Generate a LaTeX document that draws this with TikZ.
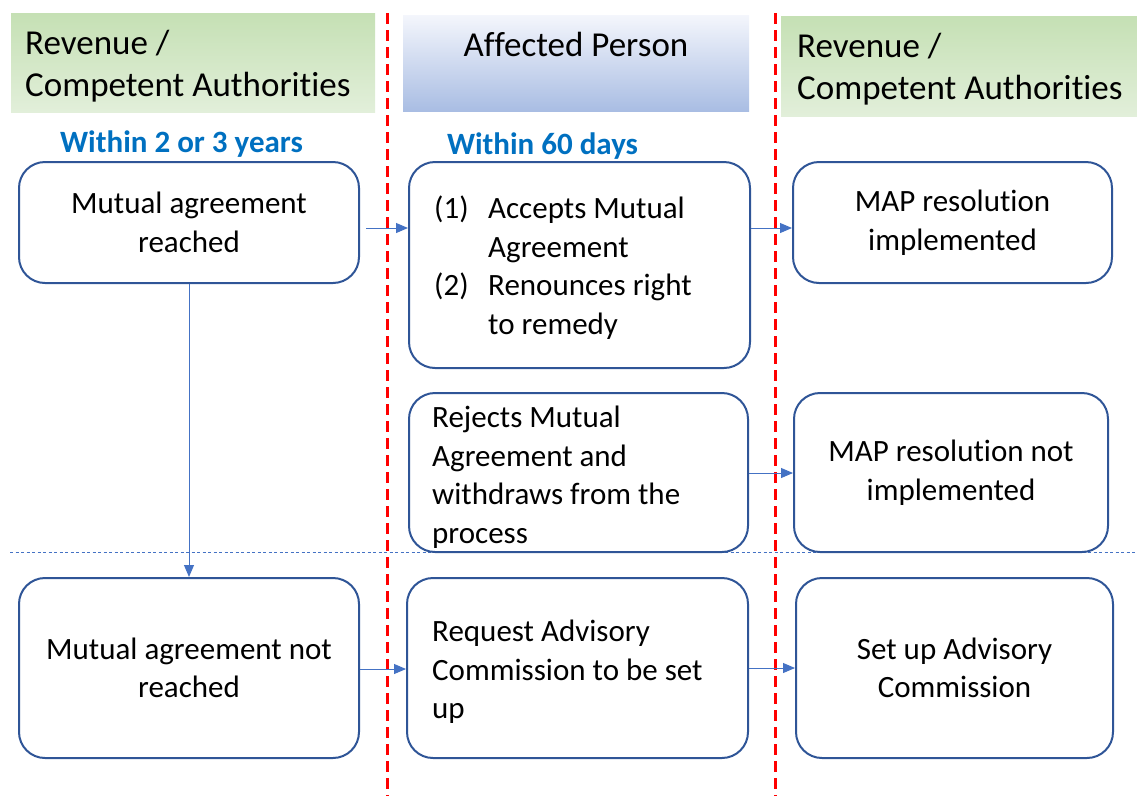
\documentclass[tikz,border=0pt]{standalone}
\usepackage{fontspec}
\setmainfont{Carlito}[RawFeature={-liga;-clig;-calt;-dlig}]
\usetikzlibrary{arrows.meta}
\definecolor{boxline}{HTML}{2F5597}
\definecolor{arrowblue}{HTML}{4472C4}
\definecolor{labelblue}{HTML}{0070C0}
\definecolor{greentop}{HTML}{C5E0B4}
\definecolor{greenbot}{HTML}{E2EFDA}
\definecolor{bluetop}{HTML}{F4F6FC}
\definecolor{bluebot}{HTML}{A9BDE3}
\definecolor{lanered}{HTML}{FF0000}
\begin{document}
\begin{tikzpicture}[x=1pt,y=-1pt,
  stepbox/.style={draw=boxline, line width=2pt, rounded corners=26pt, fill=white,
    inner sep=0pt, align=center, font=\fontsize{31}{38.5}\selectfont},
  bodytext/.style={inner sep=0pt, align=left, font=\fontsize{31}{38.5}\selectfont},
  headtext/.style={inner sep=0pt, align=left, font=\fontsize{35}{42}\selectfont},
  greenhead/.style={rectangle, inner sep=0pt, top color=greentop, bottom color=greenbot},
  bluehead/.style={rectangle, inner sep=0pt, top color=bluetop, bottom color=bluebot},
  when/.style={inner sep=0pt, text=labelblue, font=\fontsize{31}{36}\selectfont\bfseries},
  arr/.style={draw=arrowblue, line width=1pt, -{Triangle[length=12pt,width=10pt]}},
  lane/.style={draw=lanered, line width=3pt, dash pattern=on 11pt off 6pt},
  split/.style={draw=arrowblue, line width=1pt, dash pattern=on 3pt off 2.5pt},
]
\useasboundingbox (0,0) rectangle (1137,796);

% column headers
\node[greenhead, minimum width=364pt, minimum height=99pt] (hl) at (193,62.5) {};
\node[bluehead, minimum width=346pt, minimum height=96pt] (hm) at (576,63) {};
\node[greenhead, minimum width=356pt, minimum height=100pt] (hr) at (959,66) {};
\node[headtext, anchor=north west] (hltext) at (25,30) {Revenue /\\Competent Authorit\kern0pt ies};
\node[headtext] (hmtext) at (576,44) {Affected Person};
\node[headtext, anchor=north west] (hrtext) at (797,33) {Revenue /\\Competent Authorit\kern0pt ies};

% time limits
\node[when, anchor=base] (w1) at (181.5,152) {Within 2 or 3 years};
\node[when, anchor=base] (w2) at (542.5,154) {Within 60 days};

% boundary between agreement and no agreement
\coordinate (sl) at (10,552);
\coordinate (sr) at (1137,552);
\draw[split] (sl) -- (sr);

% process steps
\node[stepbox, minimum width=340pt, minimum height=121pt] (A) at (189,222.5) {Mutual agreement\\reached};
\node[stepbox, minimum width=341pt, minimum height=206pt] (B) at (579.5,265) {};
\node[stepbox, minimum width=319pt, minimum height=121pt] (C) at (952.5,222.5) {MAP resolution\\implemented};
\node[stepbox, minimum width=339pt, minimum height=159pt] (D) at (578.5,472.5) {};
\node[stepbox, minimum width=314pt, minimum height=159pt] (Mn) at (951,472.5) {MAP resolution not\\implemented};
\node[stepbox, minimum width=340pt, minimum height=180pt] (E) at (189,668) {Mutual agreement not\\reached};
\node[stepbox, minimum width=341pt, minimum height=180pt] (F) at (577.5,668) {};
\node[stepbox, minimum width=317pt, minimum height=180pt] (G) at (954.5,668) {Set up Advisory\\Commission};

\node[bodytext, anchor=north west] (Btext) at (434,196)
  {\makebox[54pt][l]{(1)}Accepts Mutual\\\hspace*{54pt}Agreement\\
   \makebox[54pt][l]{(2)}Renounces right\\\hspace*{54pt}to remedy};
\node[bodytext, anchor=north west] (Dtext) at (432,406)
  {Rejects Mutual\\Agreement and\\withdraws from the\\process};
\node[bodytext, anchor=north west] (Ftext) at (432,620)
  {Request Advisory\\Commission to be set\\up};

% swimlane separators
\coordinate (l1t) at (387,13);
\coordinate (l1b) at (387,796);
\coordinate (l2t) at (775,13);
\coordinate (l2b) at (775,796);
\draw[lane] (l1t) -- (l1b);
\draw[lane] (l2t) -- (l2b);

% connectors
\draw[arr, shorten <=6pt] (A.east |- 0,228) -- (B.west |- 0,228);
\draw[arr] (B.east |- 0,228) -- (C.west |- 0,228);
\draw[arr] (A.south) -- (E.north);
\draw[arr] (D.east |- 0,473) -- (Mn.west |- 0,473);
\draw[arr] (E.east |- 0,669) -- (F.west |- 0,669);
\draw[arr] (F.east |- 0,668) -- (G.west |- 0,668);
\end{tikzpicture}
\end{document}
